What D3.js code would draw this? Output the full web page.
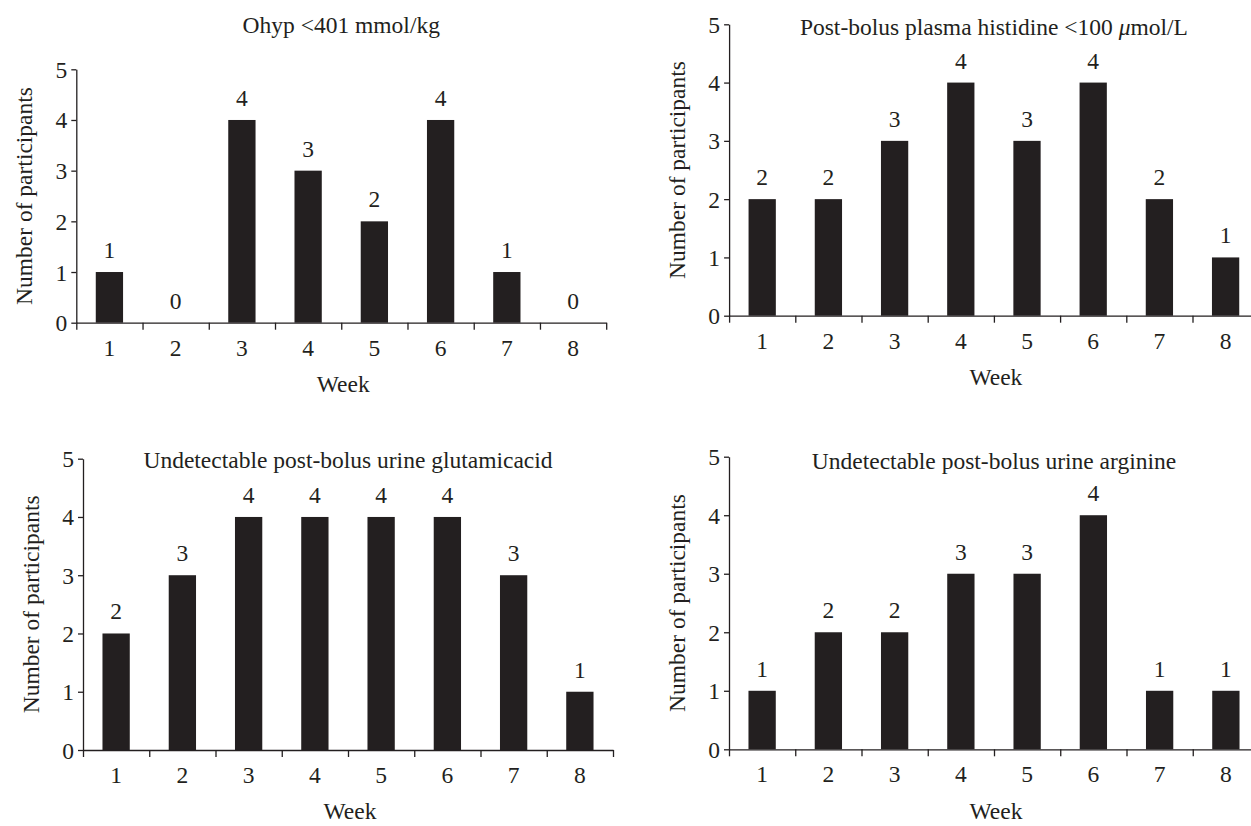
<!DOCTYPE html>
<html>
<head>
<meta charset="utf-8">
<script src="https://cdn.jsdelivr.net/npm/d3@7"></script>
<style>
  html, body { margin: 0; padding: 0; background: #ffffff; }
  svg { display: block; }
</style>
</head>
<body>
<script>
// ---------------- data ----------------
const weeks = ["1", "2", "3", "4", "5", "6", "7", "8"];
const ohypValues = [1, 0, 4, 3, 2, 4, 1, 0];
const histidineValues = [2, 2, 3, 4, 3, 4, 2, 1];
const glutamicValues = [2, 3, 4, 4, 4, 4, 3, 1];
const arginineValues = [1, 2, 2, 3, 3, 4, 1, 1];
const yTicks = [0, 1, 2, 3, 4, 5];
const yMax = 5;
const titleOhyp = "Ohyp <401 mmol/kg";
const titleHistidine = ["Post-bolus plasma histidine <100 ", "\u03bc", "mol/L"];
const titleGlutamic = "Undetectable post-bolus urine glutamicacid";
const titleArginine = "Undetectable post-bolus urine arginine";
const xLabel = "Week";
const yLabel = "Number of participants";

// ---------------- drawing ----------------
const ink = "#231f20";
const fontSize = 23.5;
const serif = "'Liberation Serif','Times New Roman',serif";

const svg = d3.select("body").append("svg")
  .attr("width", 1251).attr("height", 826)
  .style("font-family", serif);

function panel(cfg, values, title) {
  const x = d3.scaleBand().domain(weeks).range([cfg.x0, cfg.x1]).padding(0);
  const xb = d3.scaleLinear().domain([0, weeks.length]).range([cfg.x0, cfg.x1]);
  const y = d3.scaleLinear().domain([0, yMax]).range([cfg.y0, cfg.y5]);
  const g = svg.append("g");
  const bw = x.step() * 0.412;

  // bars
  g.append("g").selectAll("rect").data(values).join("rect")
    .attr("x", (d, i) => x(weeks[i]) + (x.step() - bw) / 2)
    .attr("y", d => y(d))
    .attr("width", bw)
    .attr("height", d => y(0) - y(d))
    .attr("fill", ink);

  // x boundary ticks + axis line
  const xa = g.append("g").attr("transform", `translate(0,${cfg.y0})`)
    .call(d3.axisBottom(xb).tickValues(d3.range(0, weeks.length + 1)).tickSize(7).tickSizeOuter(0).tickFormat(""));
  xa.selectAll("path,line").attr("stroke", ink).attr("stroke-width", 1.3);

  // x labels
  const xl = g.append("g").attr("transform", `translate(0,${cfg.y0})`)
    .call(d3.axisBottom(x).tickSize(0));
  xl.attr("font-family", serif).attr("font-size", fontSize);
  xl.select(".domain").remove();
  xl.selectAll("text").attr("y", 33).attr("dy", null).attr("fill", ink);

  // y axis
  const ya = g.append("g").attr("transform", `translate(${cfg.x0},0)`)
    .call(d3.axisLeft(y).tickValues(yTicks).tickFormat(d3.format("d")).tickSize(5).tickSizeOuter(0).tickPadding(4));
  ya.attr("font-family", serif).attr("font-size", fontSize);
  ya.selectAll("path,line").attr("stroke", ink).attr("stroke-width", 1.3);
  ya.selectAll("text").attr("fill", ink).attr("dy", "0.34em");

  // value labels
  g.append("g").selectAll("text").data(values).join("text")
    .attr("x", (d, i) => x(weeks[i]) + x.step() / 2)
    .attr("y", d => y(d) - 14)
    .attr("text-anchor", "middle")
    .attr("font-size", fontSize)
    .attr("fill", ink)
    .text(d => d);

  // title
  const t = g.append("text")
    .attr("x", (cfg.x0 + cfg.x1) / 2)
    .attr("y", cfg.titleY)
    .attr("text-anchor", "middle")
    .attr("font-size", fontSize)
    .attr("fill", ink);
  if (Array.isArray(title)) {
    t.append("tspan").text(title[0]);
    t.append("tspan").attr("font-style", "italic").text(title[1]);
    t.append("tspan").text(title[2]);
  } else {
    t.text(title);
  }

  // axis titles
  g.append("text")
    .attr("x", (cfg.x0 + cfg.x1) / 2 + 2)
    .attr("y", cfg.weekY)
    .attr("text-anchor", "middle")
    .attr("font-size", fontSize)
    .attr("fill", ink)
    .text(xLabel);

  g.append("text")
    .attr("transform", `translate(${cfg.x0 - 44},${(cfg.y0 + cfg.y5) / 2}) rotate(-90)`)
    .attr("text-anchor", "middle")
    .attr("font-size", fontSize)
    .attr("fill", ink)
    .text(yLabel);
}

panel({ x0: 76.3, x1: 606.2, y0: 322.7, y5: 69.3, titleY: 33, weekY: 392 }, ohypValues, titleOhyp);
panel({ x0: 729.1, x1: 1258.7, y0: 315.7, y5: 24.3, titleY: 35, weekY: 385 }, histidineValues, titleHistidine);
panel({ x0: 83, x1: 613, y0: 750, y5: 458.7, titleY: 468, weekY: 819 }, glutamicValues, titleGlutamic);
panel({ x0: 729, x1: 1259, y0: 749.3, y5: 456.7, titleY: 469, weekY: 819 }, arginineValues, titleArginine);
</script>
</body>
</html>
